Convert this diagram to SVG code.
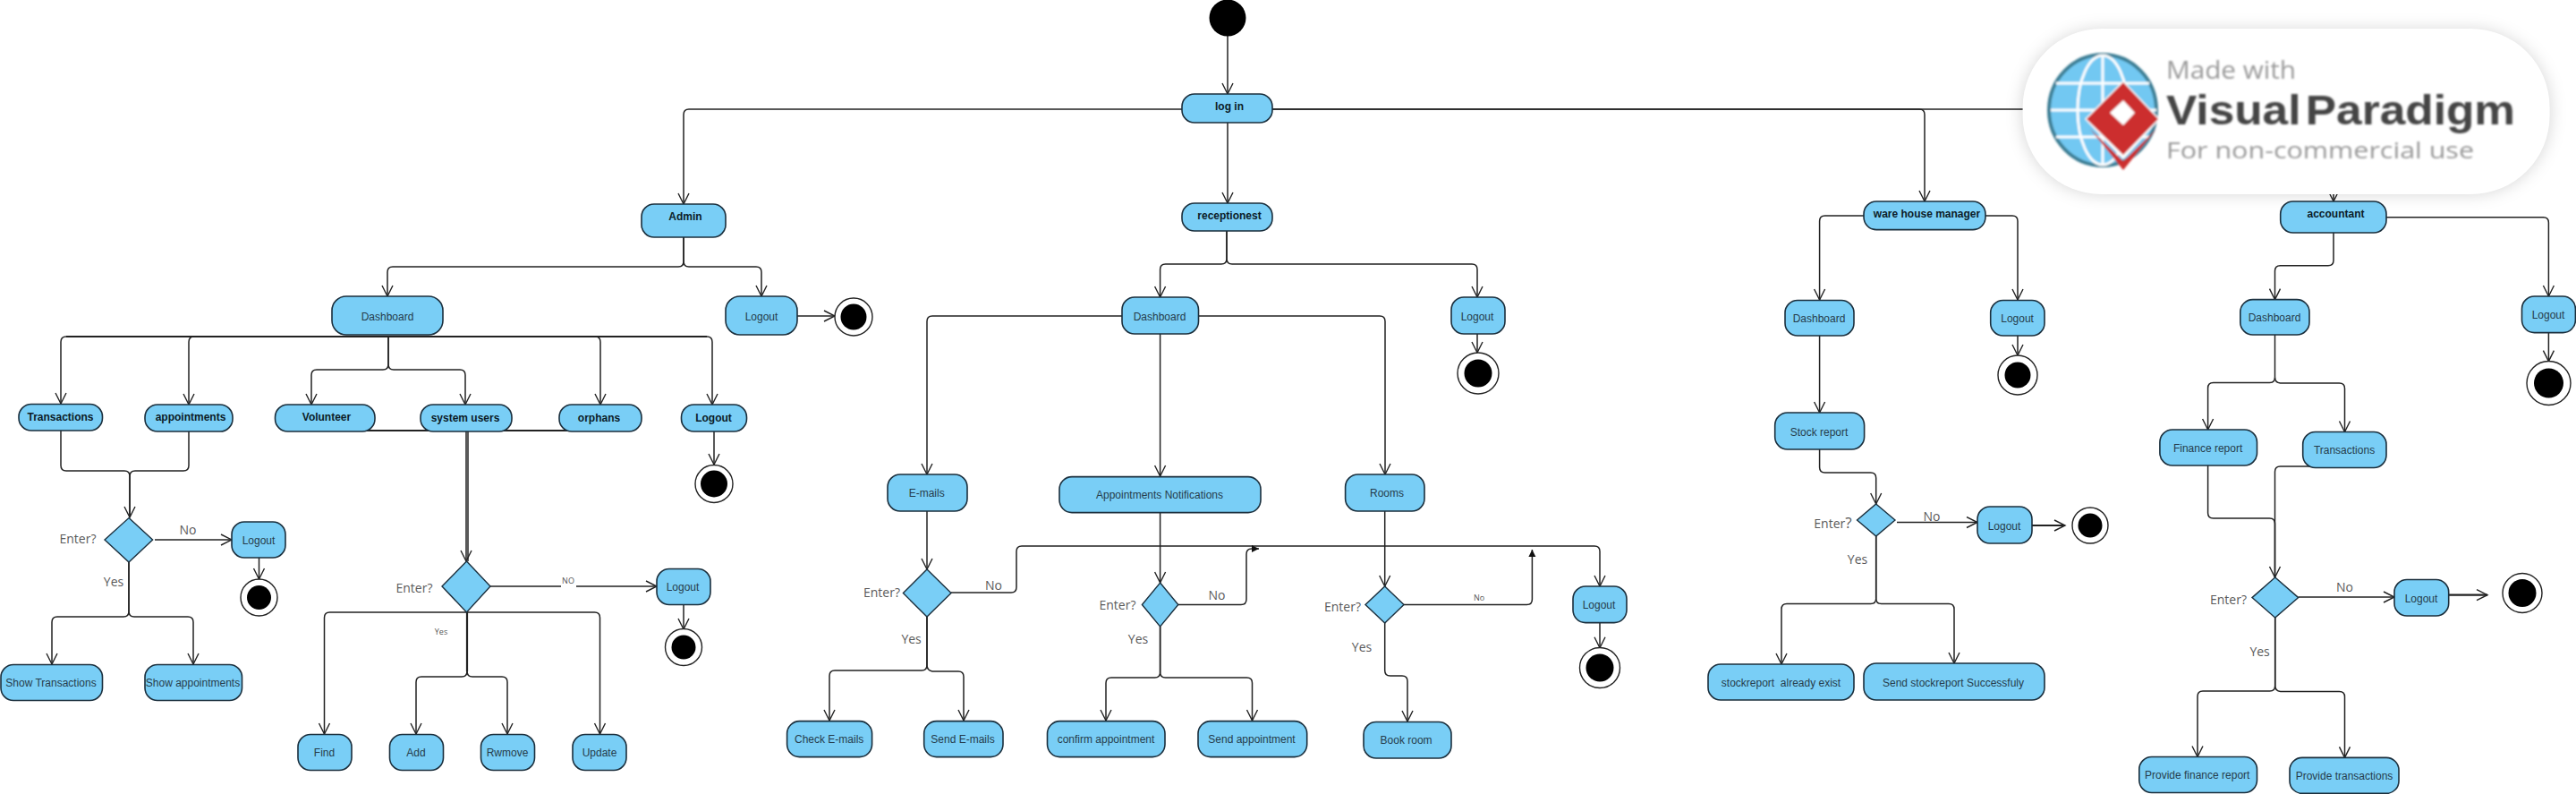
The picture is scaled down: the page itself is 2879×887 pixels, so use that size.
<svg xmlns="http://www.w3.org/2000/svg" width="2879" height="887" viewBox="0 0 2879 887">
<style>
.n{fill:#79cef6;stroke:#1b2f3d;stroke-width:1.6}
.d{fill:#79cef6;stroke:#1b2f3d;stroke-width:1.4}
.t{font-family:"Liberation Sans",Arial,sans-serif;font-size:12px;fill:#263c4b;text-anchor:middle}
.b{font-weight:bold;fill:#0c1c28}
.l{font-family:"Open Sans","Noto Sans",sans-serif;font-size:14px;fill:#5a5a5a;text-anchor:middle}
.s{font-family:"Open Sans","Noto Sans",sans-serif;font-size:9px;fill:#555;text-anchor:middle}
.c{fill:none;stroke:#222;stroke-width:1.5}
.a{marker-end:url(#open)}
.f{marker-end:url(#solid)}
.h{stroke-width:2.2}
.o{fill:#fff;stroke:#222;stroke-width:1.4}
.i{fill:#000}
</style>
<defs>
<marker id="open" markerUnits="userSpaceOnUse" markerWidth="16" markerHeight="16" refX="13" refY="7" orient="auto"><path d="M1 1L13 7L1 13" fill="none" stroke="#222" stroke-width="1.4"/></marker>
<marker id="solid" markerUnits="userSpaceOnUse" markerWidth="10" markerHeight="10" refX="8" refY="4" orient="auto"><path d="M0 0L8 4L0 8z" fill="#111"/></marker>
<filter id="sh" x="-10%" y="-20%" width="120%" height="140%"><feGaussianBlur stdDeviation="9"/></filter>
<filter id="bl" x="-5%" y="-10%" width="110%" height="120%"><feGaussianBlur stdDeviation="0.8"/></filter>
</defs>
<g id="connectors">
<path class="c a" d="M1372 40V105"/>
<path class="c a" d="M1321 122H770Q764 122 764 128V228"/>
<path class="c a" d="M1372 137V227"/>
<path class="c a" d="M1422 122H2145Q2151 122 2151 128V225"/>
<path class="c a" d="M1422 122H2602Q2608 122 2608 128V225"/>
<path class="c a" d="M764 265V292Q764 298 758 298H439Q433 298 433 304V331"/>
<path class="c a" d="M764 265V292Q764 298 770 298H845Q851 298 851 304V331"/>
<path class="c a" d="M891 353H933"/>
<path class="c h" d="M74 376H790"/>
<path class="c a" d="M74 376Q68 376 68 382V451"/>
<path class="c a" d="M217 376Q211 376 211 382V452"/>
<path class="c a" d="M665 376Q671 376 671 382V452"/>
<path class="c a" d="M790 376Q796 376 796 382V452"/>
<path class="c a" d="M434 376V407Q434 413 428 413H354Q348 413 348 419V452"/>
<path class="c a" d="M434 376V407Q434 413 440 413H514Q520 413 520 419V452"/>
<path class="c a" d="M798 482V519"/>
<path class="c" d="M68 481V520Q68 526 74 526H139Q145 526 145 532V578"/>
<path class="c a" d="M211 482V520Q211 526 205 526H151Q145 526 145 532V578"/>
<path class="c a" d="M173 603H259"/>
<path class="c a" d="M289.500 623V647"/>
<path class="c a" d="M144 628V683Q144 689 138 689H64Q58 689 58 695V742"/>
<path class="c a" d="M144 628V683Q144 689 150 689H210Q216 689 216 695V742"/>
<path class="c h" d="M362 481H671"/>
<path class="c a" d="M521 482V627"/>
<path class="c" d="M523 482V627"/>
<path class="c a" d="M548 655H627M644 655H734"/>
<path class="c a" d="M764 675.500V703"/>
<path class="c a" d="M522 684H664.500Q670.500 684 670.500 690V820"/>
<path class="c a" d="M522 684H368.500Q362.500 684 362.500 690V820"/>
<path class="c h" d="M522 684V750"/>
<path class="c a" d="M522 750Q522 756 516 756H471Q465 756 465 762V820"/>
<path class="c a" d="M522 750Q522 756 528 756H561Q567 756 567 762V820"/>
<path class="c a" d="M1371 258V289Q1371 295 1365 295H1302.600Q1296.600 295 1296.600 301V332"/>
<path class="c a" d="M1371 258V289Q1371 295 1377 295H1645Q1651 295 1651 301V332"/>
<path class="c a" d="M1651 373V394"/>
<path class="c a" d="M1254 353H1042Q1036 353 1036 359V530"/>
<path class="c a" d="M1339.500 353H1542Q1548 353 1548 359V530"/>
<path class="c a" d="M1296.600 373V532"/>
<path class="c a" d="M1036 571V636"/>
<path class="c a" d="M1063 662H1130Q1136 662 1136 656V616Q1136 610 1142 610H1782Q1788 610 1788 616V655"/>
<path class="c a" d="M1788 695.600V723.700"/>
<path class="c a" d="M1036 689V743Q1036 749 1030 749H933Q927 749 927 755V805"/>
<path class="c a" d="M1036 689V743Q1036 749 1042 750H1071Q1077 750 1077 756V805"/>
<path class="c a" d="M1296.600 572.500V651"/>
<path class="c f" d="M1317 675.500H1387Q1393 675.500 1393 669.500V619Q1393 613 1399 613H1407"/>
<path class="c a" d="M1296.600 700V751Q1296.600 757 1290.600 757H1242Q1236 757 1236 763V805"/>
<path class="c a" d="M1296.600 700V751Q1296.600 757 1302.600 757H1393.500Q1399.500 757 1399.500 763V805"/>
<path class="c a" d="M1547.700 571V655"/>
<path class="c f" d="M1569 675.500H1706.400Q1712.400 675.500 1712.400 669.500V614"/>
<path class="c a" d="M1547.700 696V749Q1547.700 755 1553.700 755H1567Q1573 755 1573 761V806"/>
<path class="c a" d="M2083 241H2039.600Q2033.600 241 2033.600 247V335"/>
<path class="c a" d="M2219 241H2249Q2255 241 2255 247V335"/>
<path class="c a" d="M2255 375V397"/>
<path class="c a" d="M2033.600 375V461"/>
<path class="c a" d="M2033.600 502V522Q2033.600 528 2039.600 528H2090.700Q2096.700 528 2096.700 534V563"/>
<path class="c a" d="M2120 583.500H2210"/>
<path class="c a h" d="M2271 587H2308"/>
<path class="c a" d="M2096.700 599V668.600Q2096.700 674.600 2090.700 674.600H1997Q1991 674.600 1991 680.600V742"/>
<path class="c a" d="M2096.700 599V668.600Q2096.700 674.600 2102.700 674.600H2178Q2184 674.600 2184 680.600V741"/>
<path class="c a" d="M2667 242.700H2842.400Q2848.400 242.700 2848.400 248.700V331"/>
<path class="c a" d="M2848.400 371.600V403.600"/>
<path class="c a" d="M2608 260V290.800Q2608 296.800 2602 296.800H2548.500Q2542.500 296.800 2542.500 302.800V334.600"/>
<path class="c" d="M2542.500 374V421.500"/>
<path class="c a" d="M2542.500 421.500Q2542.500 427.500 2536.500 427.500H2473.600Q2467.600 427.500 2467.600 433.500V480"/>
<path class="c a" d="M2542.500 421.500Q2542.500 427.500 2548.500 428H2614.500Q2620.500 428 2620.500 434V482.500"/>
<path class="c" d="M2467.600 520V573Q2467.600 579 2473.600 579H2536.500Q2542.500 579 2542.500 585V645"/>
<path class="c a" d="M2620 521H2548.500Q2542.500 521 2542.500 527V645"/>
<path class="c a" d="M2568.700 667H2676"/>
<path class="c a h" d="M2737 664.700H2780"/>
<path class="c a" d="M2542.700 690V766Q2542.700 772 2536.700 772H2462Q2456 772 2456 778V845.500"/>
<path class="c a" d="M2542.700 690V766Q2542.700 772 2548.700 772.500H2614.500Q2620.500 772.500 2620.500 778.500V846.400"/>
</g>
<g id="start"><circle class="i" cx="1372" cy="20" r="20.500"/></g>
<g id="login"><rect class="n" x="1321" y="105" width="101" height="32" rx="14"/><text class="t b" x="1374" y="122.500">log in</text></g>
<g id="admin"><rect class="n" x="717" y="228" width="94" height="37" rx="14"/><text class="t b" x="766" y="246">Admin</text></g>
<g id="admin-dashboard"><rect class="n" x="371" y="331" width="124" height="43" rx="16"/><text class="t" x="433" y="358">Dashboard</text></g>
<g id="admin-logout"><rect class="n" x="811" y="331" width="80" height="43" rx="16"/><text class="t" x="851" y="358">Logout</text></g>
<g id="admin-end"><circle class="o" cx="954" cy="354" r="21"/><circle class="i" cx="954" cy="354" r="14.500"/></g>
<g id="a-transactions"><rect class="n" x="21" y="451.500" width="93.500" height="29.500" rx="14"/><text class="t b" x="67.500" y="470">Transactions</text></g>
<g id="a-appointments"><rect class="n" x="162" y="452" width="98" height="30" rx="14"/><text class="t b" x="213" y="470">appointments</text></g>
<g id="a-volunteer"><rect class="n" x="307.500" y="452" width="111.500" height="30" rx="14"/><text class="t b" x="365" y="470">Volunteer</text></g>
<g id="a-system"><rect class="n" x="470" y="452" width="102" height="30" rx="14"/><text class="t b" x="520" y="471">system users</text></g>
<g id="a-orphans"><rect class="n" x="625" y="452" width="92" height="30" rx="14"/><text class="t b" x="669.500" y="471">orphans</text></g>
<g id="a-logout"><rect class="n" x="761.500" y="452" width="73" height="30" rx="14"/><text class="t b" x="797.500" y="471">Logout</text></g>
<g id="a-end"><circle class="o" cx="798" cy="540.500" r="21"/><circle class="i" cx="798" cy="540.500" r="15"/></g>
<g id="a-d1"><polygon class="d" points="144,578.600 170.600,603 144,628 117,603"/><text class="l" x="87" y="607">Enter?</text><text class="l" x="210" y="597">No</text><text class="l" x="127" y="655">Yes</text></g>
<g id="a-d1-logout"><rect class="n" x="259" y="583" width="60" height="40" rx="14"/><text class="t" x="289" y="608">Logout</text></g>
<g id="a-d1-end"><circle class="o" cx="289.500" cy="667.500" r="20.500"/><circle class="i" cx="289.500" cy="667.500" r="13.500"/></g>
<g id="a-showt"><rect class="n" x="1" y="742.500" width="113.500" height="40" rx="14"/><text class="t" x="57" y="767">Show Transactions</text></g>
<g id="a-showa"><rect class="n" x="162" y="742.500" width="108.500" height="40" rx="14"/><text class="t" x="215.500" y="767">Show appointments</text></g>
<g id="a-d2"><polygon class="d" points="521.500,627 548,655 521.500,684 494,655"/><text class="l" x="463" y="662">Enter?</text><text class="s" x="635" y="652">NO</text><text class="s" x="493" y="709">Yes</text></g>
<g id="a-d2-logout"><rect class="n" x="734" y="635.500" width="60" height="40" rx="14"/><text class="t" x="763" y="660">Logout</text></g>
<g id="a-d2-end"><circle class="o" cx="764" cy="723" r="20.500"/><circle class="i" cx="764" cy="723" r="13.500"/></g>
<g id="a-find"><rect class="n" x="333" y="820.500" width="60" height="40" rx="14"/><text class="t" x="362.500" y="845">Find</text></g>
<g id="a-add"><rect class="n" x="435.500" y="820.500" width="60" height="40" rx="14"/><text class="t" x="465" y="845">Add</text></g>
<g id="a-remove"><rect class="n" x="537.500" y="820.500" width="60" height="40" rx="14"/><text class="t" x="567" y="845">Rwmove</text></g>
<g id="a-update"><rect class="n" x="640" y="820.500" width="60" height="40" rx="14"/><text class="t" x="670" y="845">Update</text></g>
<g id="receptionest"><rect class="n" x="1321" y="227" width="101" height="31" rx="14"/><text class="t b" x="1374" y="244.500">receptionest</text></g>
<g id="r-dashboard"><rect class="n" x="1254" y="332" width="85.500" height="41" rx="14"/><text class="t" x="1296" y="357.500">Dashboard</text></g>
<g id="r-logout"><rect class="n" x="1622" y="332" width="60" height="41" rx="14"/><text class="t" x="1651" y="358">Logout</text></g>
<g id="r-end"><circle class="o" cx="1652" cy="417" r="23"/><circle class="i" cx="1652" cy="417" r="15.500"/></g>
<g id="r-emails"><rect class="n" x="992" y="530" width="89" height="41" rx="14"/><text class="t" x="1035.700" y="555">E-mails</text></g>
<g id="r-notif"><rect class="n" x="1184" y="532.600" width="225" height="40" rx="14"/><text class="t" x="1296" y="557">Appointments Notifications</text></g>
<g id="r-rooms"><rect class="n" x="1503.600" y="530" width="88.400" height="41" rx="14"/><text class="t" x="1550" y="555">Rooms</text></g>
<g id="r-d1"><polygon class="d" points="1036,636 1063,662.600 1036,689 1009.400,662.600"/><text class="l" x="985.500" y="667">Enter?</text><text class="l" x="1110.500" y="659">No</text><text class="l" x="1018.600" y="719">Yes</text></g>
<g id="r-d2"><polygon class="d" points="1296.600,651 1316.800,675.500 1296.600,700 1276.400,675.500"/><text class="l" x="1249" y="680.500">Enter?</text><text class="l" x="1360" y="670">No</text><text class="l" x="1272" y="719">Yes</text></g>
<g id="r-d3"><polygon class="d" points="1547.700,655 1569,675.600 1547.700,696 1526,675.600"/><text class="l" x="1500.500" y="682.500">Enter?</text><text class="s" x="1653" y="671">No</text><text class="l" x="1522" y="728">Yes</text></g>
<g id="r-logout2"><rect class="n" x="1758" y="655" width="60" height="40.600" rx="14"/><text class="t" x="1787" y="680">Logout</text></g>
<g id="r-end2"><circle class="o" cx="1788" cy="746" r="22.500"/><circle class="i" cx="1788" cy="746" r="15.500"/></g>
<g id="r-check"><rect class="n" x="879.600" y="805.600" width="95" height="40" rx="14"/><text class="t" x="926.700" y="830">Check E-mails</text></g>
<g id="r-send"><rect class="n" x="1032.700" y="805.600" width="88.300" height="40" rx="14"/><text class="t" x="1076" y="830">Send E-mails</text></g>
<g id="r-confirm"><rect class="n" x="1170.500" y="805.600" width="131.500" height="40" rx="14"/><text class="t" x="1236" y="830">confirm appointment</text></g>
<g id="r-sendapp"><rect class="n" x="1339" y="805.600" width="121.700" height="40" rx="14"/><text class="t" x="1399" y="830">Send appointment</text></g>
<g id="r-book"><rect class="n" x="1524" y="806.500" width="98" height="40.500" rx="14"/><text class="t" x="1571.600" y="831">Book room</text></g>
<g id="warehouse"><rect class="n" x="2083" y="225" width="136" height="31.600" rx="14"/><text class="t b" x="2153.500" y="242.500">ware house manager</text></g>
<g id="w-dashboard"><rect class="n" x="1995" y="335.500" width="77" height="39.500" rx="14"/><text class="t" x="2033" y="360">Dashboard</text></g>
<g id="w-logout"><rect class="n" x="2224.700" y="335.500" width="60.300" height="39.500" rx="14"/><text class="t" x="2254.600" y="360">Logout</text></g>
<g id="w-end"><circle class="o" cx="2255" cy="419" r="22"/><circle class="i" cx="2255" cy="419" r="14.500"/></g>
<g id="w-stock"><rect class="n" x="1983.700" y="461" width="99.900" height="41" rx="14"/><text class="t" x="2033" y="487">Stock report</text></g>
<g id="w-d"><polygon class="d" points="2096.700,563 2118,581 2096.700,599 2075.500,581"/><text class="l" x="2048.500" y="590">Enter<tspan font-size="17">?</tspan></text><text class="l" x="2159" y="582">No</text><text class="l" x="2076" y="630">Yes</text></g>
<g id="w-logout2"><rect class="n" x="2210" y="566" width="61" height="41" rx="14"/><text class="t" x="2240" y="592">Logout</text></g>
<g id="w-end2"><circle class="o" cx="2336" cy="587" r="20"/><circle class="i" cx="2336" cy="587" r="13.500"/></g>
<g id="w-exist"><rect class="n" x="1909" y="742" width="163" height="40" rx="14"/><text class="t" x="1990.500" y="767" style="white-space:pre">stockreport  already exist</text></g>
<g id="w-send"><rect class="n" x="2083" y="741" width="202" height="41" rx="14"/><text class="t" x="2183" y="767">Send stockreport Successfuly</text></g>
<g id="accountant"><rect class="n" x="2548.700" y="225" width="118.300" height="35" rx="14"/><text class="t b" x="2610.500" y="242.500">accountant</text></g>
<g id="c-dashboard"><rect class="n" x="2503.800" y="334.600" width="77.200" height="39.400" rx="14"/><text class="t" x="2542" y="359">Dashboard</text></g>
<g id="c-logout"><rect class="n" x="2818.500" y="331" width="59.900" height="40.600" rx="14"/><text class="t" x="2848" y="356">Logout</text></g>
<g id="c-end"><circle class="o" cx="2848.500" cy="428" r="24.500"/><circle class="i" cx="2848.500" cy="428" r="16.500"/></g>
<g id="c-finance"><rect class="n" x="2413.900" y="480" width="108.600" height="40" rx="14"/><text class="t" x="2467.600" y="504.500">Finance report</text></g>
<g id="c-transactions"><rect class="n" x="2573.700" y="482.500" width="93.300" height="40" rx="14"/><text class="t" x="2620" y="507">Transactions</text></g>
<g id="c-d"><polygon class="d" points="2542.700,645 2568.700,667.600 2542.700,690 2517,667.600"/><text class="l" x="2490.500" y="675">Enter?</text><text class="l" x="2620.500" y="661">No</text><text class="l" x="2525.600" y="733">Yes</text></g>
<g id="c-logout2"><rect class="n" x="2676" y="647.500" width="60.700" height="40.500" rx="14"/><text class="t" x="2706" y="673">Logout</text></g>
<g id="c-end2"><circle class="o" cx="2819" cy="662.500" r="22"/><circle class="i" cx="2819" cy="662.500" r="15.500"/></g>
<g id="c-provf"><rect class="n" x="2390.800" y="845.500" width="131.700" height="40" rx="14"/><text class="t" x="2455.700" y="870">Provide finance report</text></g>
<g id="c-provt"><rect class="n" x="2559" y="846.400" width="122" height="40" rx="14"/><text class="t" x="2620" y="871">Provide transactions</text></g>
<g id="logo">
<rect x="2260" y="33" width="590" height="184" rx="88" fill="#000" fill-opacity="0.16" filter="url(#sh)"/>
<rect x="2260.600" y="32" width="589" height="185" rx="88" fill="#fff"/>
<g filter="url(#bl)">
<ellipse cx="2350" cy="123" rx="60" ry="62" fill="#72c8f2" stroke="#3d7e94" stroke-width="4"/>
<path d="M2350 62V185M2292 123H2410M2298 93H2402M2298 153H2402" fill="none" stroke="#fff" stroke-width="3"/>
<ellipse cx="2350" cy="123" rx="28" ry="61" fill="none" stroke="#fff" stroke-width="3"/>
<polygon points="2336,144 2373,190 2410,144 2373,180" fill="#cc2f2e"/>
<polygon points="2373,90 2414,133 2373,178 2330,133" fill="#fff"/>
<polygon points="2373,92 2412,133 2373,173 2332,133" fill="#cc2f2e"/>
<polygon points="2373,112 2386,126 2373,140 2358,126" fill="#fff"/>
<text x="2421" y="88" font-family="'Open Sans','Noto Sans',sans-serif" font-size="27" fill="#999" textLength="145" lengthAdjust="spacingAndGlyphs">Made with</text>
<text x="2421" y="139" font-family="'Liberation Sans',Arial,sans-serif" font-size="46" font-weight="bold" fill="#444" word-spacing="-8" textLength="390" lengthAdjust="spacingAndGlyphs">Visual Paradigm</text>
<text x="2421" y="177" font-family="'Open Sans','Noto Sans',sans-serif" font-size="26" fill="#999" textLength="344" lengthAdjust="spacingAndGlyphs">For non-commercial use</text>
</g>
</g>
</svg>
